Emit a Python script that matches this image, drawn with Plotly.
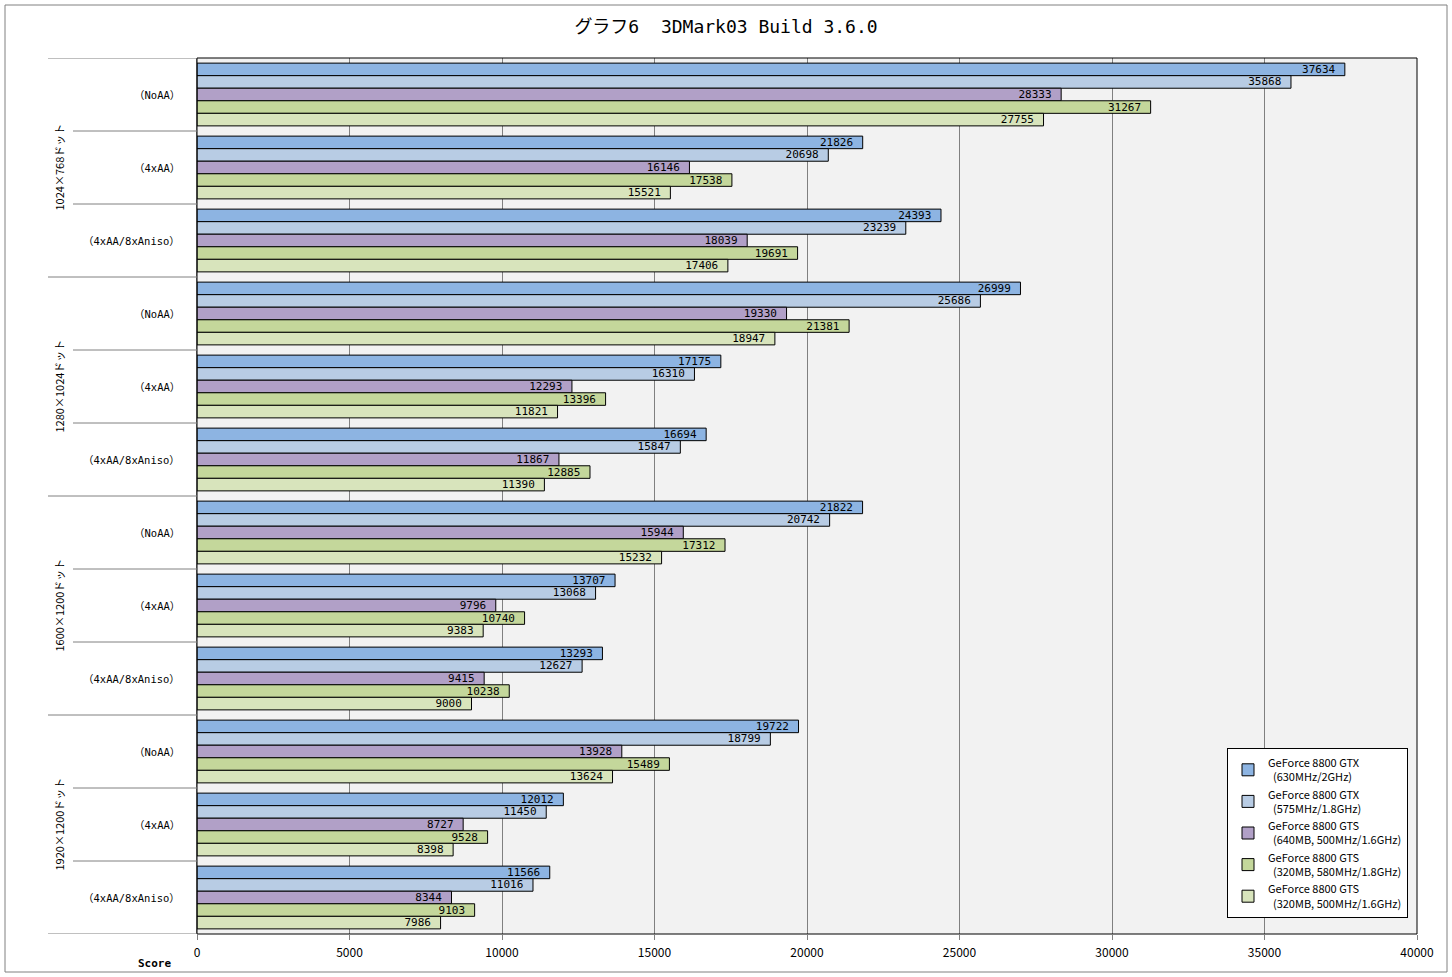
import plotly.graph_objects as go

# ---- data ----
resolutions = ["1024×768ドット", "1280×1024ドット", "1600×1200ドット", "1920×1200ドット"]
settings = ["（NoAA）", "（4xAA）", "（4xAA/8xAniso）"]

series_names = [
    "GeForce 8800 GTX<br>  (630MHz/2GHz)",
    "GeForce 8800 GTX<br>  (575MHz/1.8GHz)",
    "GeForce 8800 GTS<br>  (640MB, 500MHz/1.6GHz)",
    "GeForce 8800 GTS<br>  (320MB, 580MHz/1.8GHz)",
    "GeForce 8800 GTS<br>  (320MB, 500MHz/1.6GHz)",
]

gtx_630 = [37634, 21826, 24393, 26999, 17175, 16694, 21822, 13707, 13293, 19722, 12012, 11566]
gtx_575 = [35868, 20698, 23239, 25686, 16310, 15847, 20742, 13068, 12627, 18799, 11450, 11016]
gts_640 = [28333, 16146, 18039, 19330, 12293, 11867, 15944, 9796, 9415, 13928, 8727, 8344]
gts_320_580 = [31267, 17538, 19691, 21381, 13396, 12885, 17312, 10740, 10238, 15489, 9528, 9103]
gts_320_500 = [27755, 15521, 17406, 18947, 11821, 11390, 15232, 9383, 9000, 13624, 8398, 7986]

x_ticks = [0, 5000, 10000, 15000, 20000, 25000, 30000, 35000, 40000]

colors = ["#8DB4E2", "#B8CCE4", "#B1A0C7", "#C4D79B", "#D8E4BC"]

all_series = [gtx_630, gtx_575, gts_640, gts_320_580, gts_320_500]

MONO = "DejaVu Sans Mono, Noto Sans CJK JP"
SANS = "Noto Sans CJK JP"

n_cat = len(resolutions) * len(settings)
ypos = list(range(n_cat))

fig = go.Figure()
for name, vals, col in zip(series_names, all_series, colors):
    fig.add_trace(go.Bar(
        y=ypos, x=vals, orientation="h", name=name,
        marker=dict(color=col, line=dict(color="black", width=1)),
        text=[str(v) + "\u00a0" for v in vals], textposition="inside",
        insidetextanchor="end", constraintext="none",
        textfont=dict(family=MONO, size=11, color="black"),
        cliponaxis=False,
    ))

W, H = 1452, 977
L, R, T, B = 197, 35, 58, 43
pw, ph = W - L - R, H - T - B

def px_to_paper_x(px):
    return (px - L) / pw

def py_to_paper_y(py):
    return (H - B - py) / ph

def cjk_parens(s):
    sp = '<span style="font-family:Noto Sans CJK JP">'
    return s.replace("（", sp + "（</span>").replace("）", sp + "）</span>")

shapes = []
annotations = []

# outer frame
shapes.append(dict(type="rect", xref="paper", yref="paper",
                   x0=px_to_paper_x(5), x1=px_to_paper_x(1447),
                   y0=py_to_paper_y(972), y1=py_to_paper_y(5),
                   line=dict(color="#808080", width=1), layer="below"))
# plot area frame
shapes.append(dict(type="rect", xref="paper", yref="paper", x0=0, x1=1, y0=0, y1=1,
                   line=dict(color="black", width=1)))

# separator lines on category axis
for k in range(n_cat + 1):
    yb = k - 0.5
    outer = (k % len(settings) == 0)
    x0 = px_to_paper_x(48) if outer else px_to_paper_x(73)
    shapes.append(dict(type="line", xref="paper", yref="y", x0=x0, x1=0,
                       y0=yb, y1=yb, line=dict(color="#808080", width=1)))

# inner labels
for i in range(n_cat):
    annotations.append(dict(xref="paper", yref="y", x=px_to_paper_x(182), y=i,
                            text=cjk_parens(settings[i % len(settings)]), showarrow=False,
                            xanchor="right", yanchor="middle",
                            font=dict(family=MONO, size=10.5, color="black")))
# outer labels
for j, res in enumerate(resolutions):
    annotations.append(dict(xref="paper", yref="y", x=px_to_paper_x(58), y=j * 3 + 1,
                            text=res, showarrow=False, textangle=-90,
                            xanchor="center", yanchor="middle",
                            font=dict(family=SANS, size=11, color="black")))
# axis title
annotations.append(dict(xref="paper", yref="paper", x=px_to_paper_x(154), y=py_to_paper_y(963),
                        text="<b>Score</b>", showarrow=False, xanchor="center", yanchor="middle",
                        font=dict(family=MONO, size=11, color="black")))

fig.update_layout(
    width=W, height=H,
    margin=dict(l=L, r=R, t=T, b=B, pad=0),
    paper_bgcolor="white", plot_bgcolor="#F2F2F2",
    barmode="group", bargap=0.14, bargroupgap=0,
    title=dict(text="グラフ6  3DMark03 Build 3.6.0", x=0.5, xanchor="center",
               y=1 - 27 / H, yanchor="middle",
               font=dict(family=MONO, size=18, color="black")),
    xaxis=dict(range=[0, 40000], tickvals=x_ticks, ticktext=[str(t) for t in x_ticks],
               showgrid=True, gridcolor="#808080", gridwidth=1, zeroline=False,
               ticks="outside", ticklen=5, tickcolor="#808080",
               ticklabelstandoff=3,
               tickfont=dict(family=SANS, size=12, color="black"),
               showline=False, fixedrange=True),
    yaxis=dict(range=[n_cat - 0.5, -0.5], showticklabels=False, showgrid=False,
               zeroline=False, showline=True, linecolor="#808080", linewidth=1,
               ticks="", fixedrange=True),
    legend=dict(x=px_to_paper_x(1408), xanchor="right", y=py_to_paper_y(918), yanchor="bottom",
                bgcolor="white", bordercolor="black", borderwidth=1,
                font=dict(family=SANS, size=11, color="black"),
                traceorder="normal", tracegroupgap=6, itemwidth=30),
    shapes=shapes, annotations=annotations,
    showlegend=True,
)

fig.write_html("out.html")
